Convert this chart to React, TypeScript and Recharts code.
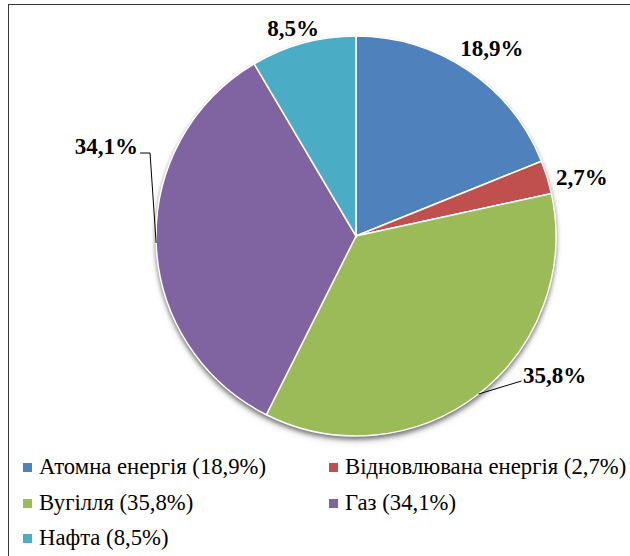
import React from 'react';
import { PieChart, Pie, Cell } from 'recharts';

const categories = ['Атомна енергія', 'Відновлювана енергія', 'Вугілля', 'Газ', 'Нафта'];
const shares = [18.9, 2.7, 35.8, 34.1, 8.5];
const shareLabels = ['18,9%', '2,7%', '35,8%', '34,1%', '8,5%'];
const colors = ['#4F81BD', '#C0504D', '#9BBB59', '#8064A2', '#4BACC6'];

const data = categories.map((name, i) => ({ name, value: shares[i], label: shareLabels[i] }));
const shadowData = [{ name: 'shadow', value: 100 }];

// label placement relative to each slice's mid angle (degrees, recharts ccw convention)
const labelLayout = [
  { rAdd: 32, dAngle: -1.86, kind: 'plain' },
  { rAdd: 33.4, dAngle: -2.59, kind: 'plain' },
  { rAdd: 17.6, dAngle: 12.33, kind: 'leaderRight' },
  { rAdd: 35.8, dAngle: -24.41, kind: 'leaderLeft' },
  { rAdd: 17.3, dAngle: 1.55, kind: 'plain' },
];

const RAD = Math.PI / 180;
const polar = (cx: number, cy: number, r: number, a: number) => ({
  x: cx + r * Math.cos(-a * RAD),
  y: cy + r * Math.sin(-a * RAD),
});

const renderLabel = (props: any) => {
  const { cx, cy, midAngle, outerRadius, index } = props;
  const cfg = labelLayout[index];
  const t = polar(cx, cy, outerRadius + cfg.rAdd, midAngle + cfg.dAngle);
  const edge = polar(cx, cy, outerRadius, midAngle);
  const textStyle = {
    fontFamily: '"Liberation Serif", "Times New Roman", serif',
    fontWeight: 700,
    fontSize: 23,
    fill: '#000',
  };
  if (cfg.kind === 'leaderRight') {
    return (
      <g key={`l${index}`}>
        <polyline points={`${edge.x},${edge.y} ${t.x - 1.5},${t.y + 5.5}`} stroke="#000" strokeWidth={1} fill="none" />
        <text x={t.x} y={t.y} textAnchor="start" dominantBaseline="central" style={textStyle}>
          {data[index].label}
        </text>
      </g>
    );
  }
  if (cfg.kind === 'leaderLeft') {
    return (
      <g key={`l${index}`}>
        <polyline
          points={`${t.x + 2},${t.y + 7} ${t.x + 12},${t.y + 7} ${edge.x},${edge.y}`}
          stroke="#000"
          strokeWidth={1}
          fill="none"
        />
        <text x={t.x} y={t.y} textAnchor="end" dominantBaseline="central" style={textStyle}>
          {data[index].label}
        </text>
      </g>
    );
  }
  return (
    <text key={`l${index}`} x={t.x} y={t.y} textAnchor="middle" dominantBaseline="central" style={textStyle}>
      {data[index].label}
    </text>
  );
};

const legendCols = [23, 329];
const legendRows = [467, 503, 538];

export default function App() {
  return (
    <div style={{ position: 'absolute', left: 0, top: 0, width: 630, height: 556, overflow: 'hidden', background: '#fff' }}>
      <style>{`.pie-shadow { filter: drop-shadow(0px 3px 2.5px rgba(0,0,0,0.35)); }`}</style>
      <div
        style={{
          position: 'absolute',
          left: 8,
          top: 4,
          width: 700,
          height: 700,
          border: '1.5px solid #3a3a3a',
          boxSizing: 'border-box',
        }}
      />
      <div style={{ position: 'absolute', left: 0, top: 0 }}>
        <PieChart width={630} height={556} margin={{ top: 0, right: 0, bottom: 0, left: 0 }}>
          <Pie
            data={shadowData}
            dataKey="value"
            cx={356}
            cy={236}
            outerRadius={200}
            startAngle={90}
            endAngle={-270}
            fill="#ffffff"
            stroke="none"
            className="pie-shadow"
            label={false}
            labelLine={false}
            isAnimationActive={false}
          />
          <Pie
            data={data}
            dataKey="value"
            nameKey="name"
            cx={356}
            cy={236}
            outerRadius={200}
            startAngle={90}
            endAngle={-270}
            stroke="#fff"
            strokeWidth={1.5}
            label={renderLabel}
            labelLine={false}
            isAnimationActive={false}
          >
            {data.map((d, i) => (
              <Cell key={d.name} fill={colors[i]} />
            ))}
          </Pie>
        </PieChart>
      </div>
      {data.map((d, i) => {
        const col = legendCols[i % 2];
        const row = legendRows[Math.floor(i / 2)];
        return (
          <div
            key={d.name}
            style={{
              position: 'absolute',
              left: col,
              top: row - 15,
              height: 30,
              display: 'flex',
              alignItems: 'center',
              whiteSpace: 'nowrap',
              fontFamily: '"Liberation Serif", "Times New Roman", serif',
              fontSize: 22.7,
              color: '#000',
            }}
          >
            <span style={{ display: 'inline-block', width: 9, height: 9, background: colors[i], marginRight: 7 }} />
            <span>{`${d.name} (${d.label})`}</span>
          </div>
        );
      })}
    </div>
  );
}
